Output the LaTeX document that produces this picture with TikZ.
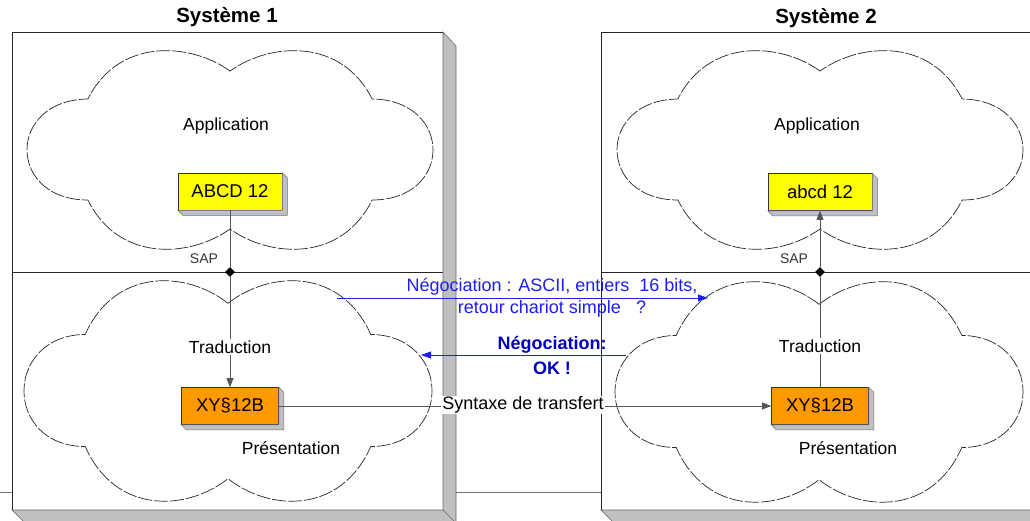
\documentclass[tikz,border=0pt]{standalone}
\usepackage{fontspec}
\setmainfont{Liberation Sans}
\usetikzlibrary{arrows.meta,shapes.geometric,calc}
\definecolor{boxyellow}{RGB}{255,255,0}
\definecolor{boxorange}{RGB}{255,153,0}
\definecolor{barfill}{RGB}{192,192,192}
\definecolor{negblue}{RGB}{30,30,240}
\definecolor{negdark}{RGB}{0,0,190}
\definecolor{conn}{RGB}{85,85,85}
\tikzset{
  cloudline/.style={draw=black!85, line width=0.7pt, dash pattern=on 14pt off 2pt},
  frameline/.style={draw=black!85, line width=0.8pt},
  barstyle/.style={fill=barfill, draw=black!60, line width=0.6pt},
  basebox/.style={draw=black!80, line width=0.6pt, minimum height=37pt, inner sep=0pt, font=\fontsize{18.5}{21}\selectfont},
  ybox/.style={basebox, fill=boxyellow, minimum width=104pt},
  obox/.style={basebox, fill=boxorange, minimum width=97pt},
  lbl/.style={inner sep=1pt, font=\fontsize{17.5}{21}\selectfont},
  title/.style={inner sep=0pt, font=\fontsize{20.5}{24}\selectfont\bfseries},
  saplbl/.style={inner sep=0pt, text=black!80, font=\fontsize{14}{16}\selectfont},
  sapdot/.style={diamond, fill=black, minimum size=10pt, inner sep=0pt},
  conline/.style={draw=conn, line width=0.8pt},
  conarrow/.style={conline, -{Triangle[length=9pt,width=7pt]}, shorten >=0pt},
  negarrow/.style={draw=negblue, line width=0.8pt, -{Triangle[length=10pt,width=7pt]}},
}
\newcommand\drawcloud[4]{%
 \draw[cloudline,shift={(#1,#2)},xscale=#3,yscale=#4]
 (0,-0.79) .. controls (-0.2,-1.08) and (-0.55,-1.12) .. (-0.70,-0.51)
 .. controls (-1.1,-0.5) and (-1.1,0.5) .. (-0.70,0.50)
 .. controls (-0.55,1.12) and (-0.2,1.08) .. (0,0.79)
 .. controls (0.2,1.08) and (0.55,1.12) .. (0.70,0.50)
 .. controls (1.1,0.5) and (1.1,-0.5) .. (0.70,-0.51)
 .. controls (0.55,-1.12) and (0.2,-1.08) .. cycle;}
\newcommand\extrude[1]{%
 \filldraw[fill=barfill,draw=black!55,line width=0.5pt]
 (#1.north east) -- ++(5,5) -- ($(#1.south east)+(5,5)$) -- ($(#1.south west)+(5,5)$)
 -- (#1.south west) -- (#1.south east) -- cycle;}
\begin{document}
\begin{tikzpicture}[x=1pt,y=-1pt]
\useasboundingbox (0,0) rectangle (1030,520);
\clip (0,0) rectangle (1030,520);
\fill[white] (0,0) rectangle (1030,520);
% background line
\draw[black!55, line width=0.7pt] (0,492) -- (1030,492);
% system 1 frame
\filldraw[frameline, fill=white] (12,32) rectangle (443,510);
\draw[frameline] (12,272) -- (443,272);
\filldraw[barstyle] (443,32) -- (456,46) -- (456,530) -- (443,510) -- cycle;
\filldraw[barstyle] (12,510) -- (443,510) -- (456,523) -- (456,530) -- (32,530) -- cycle;
% system 2 frame
\filldraw[frameline, fill=white] (601,32) rectangle (1045,510);
\draw[frameline] (601,272) -- (1045,272);
\filldraw[barstyle] (601,510) -- (1045,510) -- (1045,530) -- (621,530) -- cycle;
% clouds
\drawcloud{230}{150}{203}{100}
\drawcloud{228}{391}{204}{111}
\drawcloud{820}{150}{203}{100}
\drawcloud{819}{392}{204}{111}
% titles
\node[title] (t1) at (227,17) {Système 1};
\node[title] (t2) at (826,18) {Système 2};
% labels
\node[lbl] (app1) at (226,126) {Application};
\node[lbl] (app2) at (817,126) {Application};
\node[lbl] (tr1) at (230,347) {Traduction};
\node[lbl] (tr2) at (820,346) {Traduction};
\node[lbl] (pr1) at (291,448) {Présentation};
\node[lbl] (pr2) at (848,448) {Présentation};
\node[saplbl] (sapl1) at (204,259) {SAP};
\node[saplbl] (sapl2) at (794,259) {SAP};
% boxes
\node[ybox] (a1) at (230,191.5) {ABCD 12};
\extrude{a1}
\node[ybox] (a2) at (820,192) {abcd 12};
\extrude{a2}
\node[obox] (x1) at (230,406) {XY§12B};
\extrude{x1}
\node[obox] (x2) at (820,406) {XY§12B};
\extrude{x2}
% SAP points
\node[sapdot] (sap1) at (230,272) {};
\node[sapdot] (sap2) at (820,272) {};
% vertical connectors
\draw[conline] (a1.south) -- (sap1.north);
\draw[conline] (sap1.south) -- (tr1.north);
\draw[conarrow] (tr1.south) -- (x1.north);
\draw[conline] (x2.north) -- (tr2.south);
\draw[conline] (tr2.north) -- (sap2.south);
\draw[conarrow] (sap2.north) -- (a2.south);
% transfer syntax
\node[lbl, fill=white, inner sep=1pt, font=\fontsize{18}{21}\selectfont] (syn) at (523,405) {Syntaxe de transfert};
\draw[conline] (x1.east) -- (x1.east -| syn.west);
\draw[conarrow] (x2.west -| syn.east) -- (x2.west);
% negotiation
\coordinate (n1s) at (337,298);
\coordinate (n1e) at (708,298);
\draw[negarrow] (n1s) -- (n1e);
\node[inner sep=0pt, text=negblue, align=center, font=\fontsize{18}{22}\selectfont] (neg1) at (552,298) {Négociation : ASCII, entiers \ 16 bits,\\retour chariot simple \ \ ?};
\coordinate (n2s) at (626,355);
\coordinate (n2e) at (421,355);
\draw[negarrow] (n2s) -- (n2e);
\node[inner sep=0pt, text=negdark, align=center, font=\fontsize{18}{22}\selectfont\bfseries] (neg2) at (552,355) {Négociation:\\[3pt]OK !};
\end{tikzpicture}
\end{document}
